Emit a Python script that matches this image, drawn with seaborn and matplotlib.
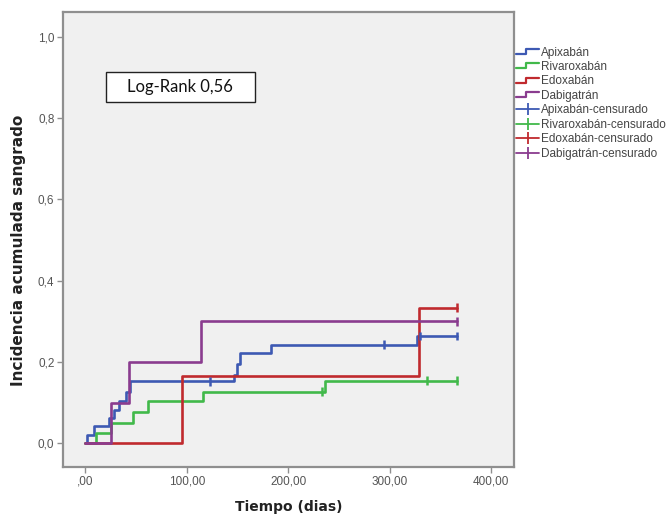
"""Cumulative bleeding incidence by anticoagulant (Kaplan-Meier style step plot)."""

import matplotlib
matplotlib.use("Agg")

import matplotlib.pyplot as plt
import matplotlib.patches as mpatches
from matplotlib.legend_handler import HandlerBase
from matplotlib.lines import Line2D
import seaborn as sns
import pandas as pd

# ── Data ─────────────────────────────────────────────────────────────────────
DRUGS = ["Apixabán", "Rivaroxabán", "Edoxabán", "Dabigatrán"]
COLORS = ["#3d59b3", "#41b94a", "#c02a2e", "#8a3c8f"]

apix_t = [0, 1.8, 8.4, 23.5, 28, 33, 40.5, 44.5, 146.3, 150, 153, 183.4, 326.6, 366.5]
apix_y = [0, 0.021, 0.042, 0.063, 0.083, 0.104, 0.125, 0.152, 0.168, 0.196, 0.221, 0.242, 0.264, 0.264]

riva_t = [0, 10.3, 25.8, 47, 61.9, 115.7, 236.4, 366.5]
riva_y = [0, 0.025, 0.05, 0.076, 0.103, 0.127, 0.154, 0.154]

edox_t = [0, 95, 328.9, 366.5]
edox_y = [0, 0.166, 0.333, 0.333]

dabi_t = [0, 25.1, 43.2, 114, 366.5]
dabi_y = [0, 0.1, 0.2, 0.3, 0.3]

# censored observations (time, cumulative incidence)
apix_cens_t = [123, 294, 330, 366.5]
apix_cens_y = [0.152, 0.242, 0.264, 0.264]
riva_cens_t = [233, 337, 366.5]
riva_cens_y = [0.127, 0.154, 0.154]
edox_cens_t = [366.5]
edox_cens_y = [0.333]
dabi_cens_t = [366.5]
dabi_cens_y = [0.3]

X_TICKS = [0, 100, 200, 300, 400]
X_TICKLABELS = [",00", "100,00", "200,00", "300,00", "400,00"]
Y_TICKS = [0.0, 0.2, 0.4, 0.6, 0.8, 1.0]
Y_TICKLABELS = ["0,0", "0,2", "0,4", "0,6", "0,8", "1,0"]

curves = pd.concat([
    pd.DataFrame({"t": t, "y": y, "drug": d})
    for d, t, y in zip(DRUGS, [apix_t, riva_t, edox_t, dabi_t],
                       [apix_y, riva_y, edox_y, dabi_y])
])
censored = pd.concat([
    pd.DataFrame({"t": t, "y": y, "drug": d})
    for d, t, y in zip(DRUGS, [apix_cens_t, riva_cens_t, edox_cens_t, dabi_cens_t],
                       [apix_cens_y, riva_cens_y, edox_cens_y, dabi_cens_y])
])

# ── Theme ────────────────────────────────────────────────────────────────────
sns.set_theme(style="white")
plt.rcParams["font.family"] = ["Liberation Sans", "DejaVu Sans"]
palette = dict(zip(DRUGS, COLORS))
FRAME = "#8f8f8f"


class StepHandler(HandlerBase):
    """Legend icon shaped like a small step."""

    def __init__(self, color):
        super().__init__()
        self.color = color

    def create_artists(self, legend, orig_handle, xdescent, ydescent,
                       width, height, fontsize, trans):
        w, h = width, height
        xs = [-xdescent, -xdescent + 0.45 * w, -xdescent + 0.45 * w, -xdescent + w]
        ys = [-ydescent + 0.2 * h, -ydescent + 0.2 * h, -ydescent + 0.8 * h, -ydescent + 0.8 * h]
        line = Line2D(xs, ys, color=self.color, lw=1.6, transform=trans)
        return [line]


fig = plt.figure(figsize=(6.68, 5.17), dpi=100)
ax = fig.add_axes([0.094, 0.097, 0.676, 0.880])
ax.set_facecolor("#f0f0f0")

sns.lineplot(
    data=curves, x="t", y="y", hue="drug", palette=palette,
    estimator=None, drawstyle="steps-post", linewidth=1.9,
    legend=False, ax=ax, zorder=3,
)
sns.scatterplot(
    data=censored, x="t", y="y", hue="drug", palette=palette,
    marker="|", s=40, linewidth=1.8, legend=False, ax=ax, zorder=4,
)

ax.set_xlim(-22.2, 423)
ax.set_ylim(-0.058, 1.061)
ax.set_xticks(X_TICKS, X_TICKLABELS)
ax.set_yticks(Y_TICKS, Y_TICKLABELS)
ax.tick_params(axis="both", which="major", direction="out", length=4, width=1,
               color=FRAME, labelsize=8.5, labelcolor="#555555", pad=2,
               bottom=True, left=True)
for side in ["left", "bottom", "top", "right"]:
    ax.spines[side].set_color(FRAME)
    ax.spines[side].set_linewidth(1.6)

ax.set_xlabel("Tiempo (dias)", family=["DejaVu Sans"], fontsize=10,
              fontweight="bold", color="#222222", labelpad=9)
ax.set_ylabel("Incidencia acumulada sangrado", family=["DejaVu Sans"], fontsize=11,
              fontweight="bold", color="#222222")
ax.yaxis.set_label_coords(-0.082, 0.475)

# ── Legend ───────────────────────────────────────────────────────────────────
step_handles = [mpatches.Patch(color=c) for c in COLORS]
cens_handles = [Line2D([0], [0], color=c, lw=1.3, marker="|", markersize=9,
                       markeredgewidth=1.3) for c in COLORS]
handler_map = {h: StepHandler(c) for h, c in zip(step_handles, COLORS)}
fig.legend(
    step_handles + cens_handles,
    DRUGS + [f"{d}-censurado" for d in DRUGS],
    handler_map=handler_map,
    loc="upper left", bbox_to_anchor=(0.772, 0.91),
    frameon=False, fontsize=8.5, handlelength=2.0, handletextpad=0.15,
    labelspacing=0.21, borderpad=0, borderaxespad=0, labelcolor="#444444",
)

# ── Log-rank annotation box ──────────────────────────────────────────────────
fig.patches.append(mpatches.Rectangle(
    (0.1587, 0.8027), 0.223, 0.058, transform=fig.transFigure,
    facecolor="white", edgecolor="#222222", linewidth=1.0, zorder=5,
))
fig.text(0.270, 0.8317, "Log-Rank 0,56", family=["Lato", "DejaVu Sans"],
         fontsize=12, ha="center", va="center", color="#111111", zorder=6)

fig.savefig("out.png", dpi=100)
plt.close(fig)
